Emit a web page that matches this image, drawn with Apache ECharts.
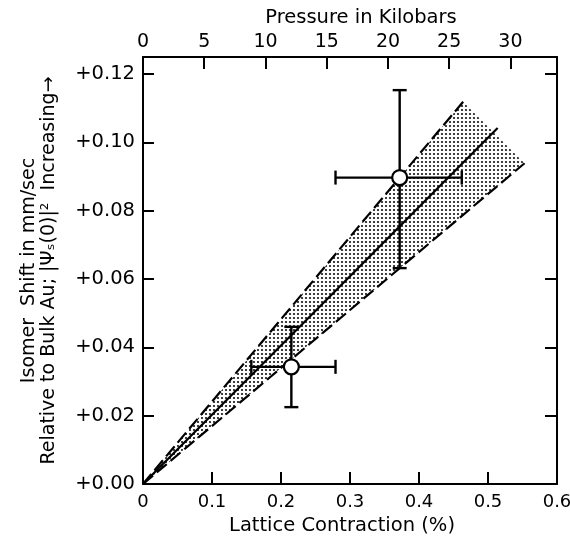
<!DOCTYPE html>
<html lang="en">
<head>
    <meta charset="UTF-8">
    <title>Isomer shift vs lattice contraction</title>
    <script src="https://cdn.jsdelivr.net/npm/echarts@6/dist/echarts.min.js"></script>
    <style>
        html, body { margin: 0; padding: 0; background: #fff; }
        #main { width: 570px; height: 537px; }
    </style>
</head>
<body>
<div id="main"></div>
<script type="text/javascript">
    // two measured points: lattice contraction (%) vs isomer shift (mm/sec)
    var pointX = [0.215, 0.372];
    var pointY = [0.0343, 0.0897];
    var xErrLow = [0.157, 0.279];
    var xErrHigh = [0.279, 0.462];
    var yErrLow = [0.0225, 0.0632];
    var yErrHigh = [0.046, 0.1153];

    // fitted line through origin and the edges of the shaded band
    var fitStart = [0, 0];
    var fitEnd = [0.514, 0.1042];
    var bandUpperEnd = [0.464, 0.1119];
    var bandLowerEnd = [0.553, 0.0939];

    // tick labels
    var contractionTicks = [0, 0.1, 0.2, 0.3, 0.4, 0.5, 0.6];
    var pressureTicks = [0, 5, 10, 15, 20, 25, 30];
    var shiftTicks = [0, 0.02, 0.04, 0.06, 0.08, 0.10, 0.12];

    var FONT = 'DejaVu Sans';

    function isTick(list, v) {
        for (var i = 0; i < list.length; i++) {
            if (Math.abs(list[i] - v) < 1e-6) return true;
        }
        return false;
    }

    // dotted fill for the band
    var dots = document.createElement('canvas');
    dots.width = 4;
    dots.height = 4;
    var g = dots.getContext('2d');
    g.fillStyle = '#111';
    g.beginPath(); g.arc(2, 2, 1.1, 0, Math.PI * 2); g.fill();

    var myChart = echarts.init(document.getElementById('main'));

    var tickStyle = {color: '#000', width: 2};

    var option = {
        backgroundColor: '#fff',
        animation: false,
        grid: {left: 143, right: 13, top: 57, bottom: 53, outerBoundsMode: 'none'},
        xAxis: [{
            type: 'value',
            position: 'bottom',
            min: 0, max: 0.6, interval: 0.1,
            name: 'Lattice Contraction (%)',
            nameLocation: 'middle',
            nameGap: 31,
            nameTextStyle: {fontFamily: FONT, fontSize: 19.5, color: '#000', padding: [0, 16, 0, 0]},
            axisLine: {onZero: false, lineStyle: tickStyle},
            axisTick: {inside: true, length: 12, lineStyle: tickStyle},
            axisLabel: {
                fontFamily: FONT, fontSize: 18, color: '#000', margin: 9,
                formatter: function (v) {
                    if (!isTick(contractionTicks, v)) return '';
                    return v === 0 ? '0' : v.toFixed(1);
                }
            },
            splitLine: {show: false}
        }, {
            type: 'value',
            position: 'top',
            min: 0, max: 33.8, interval: 5,
            name: 'Pressure in Kilobars',
            nameLocation: 'middle',
            nameGap: 27,
            nameTextStyle: {fontFamily: FONT, fontSize: 19.5, color: '#000', padding: [0, 0, 0, 22]},
            axisLine: {onZero: false, lineStyle: tickStyle},
            axisTick: {inside: true, length: 12, lineStyle: tickStyle},
            axisLabel: {
                fontFamily: FONT, fontSize: 19, color: '#000', margin: 5,
                formatter: function (v) {
                    return isTick(pressureTicks, v) ? String(v) : '';
                }
            },
            splitLine: {show: false}
        }],
        yAxis: [{
            type: 'value',
            position: 'left',
            min: 0, max: 0.125, interval: 0.02,
            name: 'Isomer  Shift in mm/sec\nRelative to Bulk Au; |Ψₛ(0)|²  Increasing→',
            nameLocation: 'middle',
            nameGap: 84,
            nameTextStyle: {fontFamily: FONT, fontSize: 19, lineHeight: 20, color: '#000'},
            axisLine: {onZero: false, lineStyle: tickStyle},
            axisTick: {inside: true, length: 11, lineStyle: tickStyle},
            axisLabel: {
                fontFamily: FONT, fontSize: 19.5, color: '#000', margin: 8,
                formatter: function (v) {
                    return isTick(shiftTicks, v) ? '+' + v.toFixed(2) : '';
                }
            },
            splitLine: {show: false}
        }, {
            type: 'value',
            position: 'right',
            min: 0, max: 0.125, interval: 0.02,
            axisLine: {show: true, onZero: false, lineStyle: tickStyle},
            axisTick: {show: true, inside: true, length: 12, lineStyle: tickStyle},
            axisLabel: {show: false},
            splitLine: {show: false}
        }],
        series: [{
            // shaded band
            type: 'custom',
            silent: true,
            z: 1,
            data: [fitStart],
            renderItem: function (params, api) {
                var pts = [fitStart, bandUpperEnd, bandLowerEnd].map(function (p) {
                    return api.coord(p);
                });
                return {
                    type: 'polygon',
                    shape: {points: pts},
                    style: {fill: {image: dots, repeat: 'repeat'}, stroke: null}
                };
            }
        }, {
            type: 'line',
            z: 3,
            data: [fitStart, bandUpperEnd],
            showSymbol: false,
            lineStyle: {color: '#000', width: 2.2, type: [13, 5]}
        }, {
            type: 'line',
            z: 3,
            data: [fitStart, bandLowerEnd],
            showSymbol: false,
            lineStyle: {color: '#000', width: 2.2, type: [13, 5]}
        }, {
            type: 'line',
            z: 3,
            data: [fitStart, fitEnd],
            showSymbol: false,
            lineStyle: {color: '#000', width: 2.2}
        }, {
            // error bars
            type: 'custom',
            z: 4,
            data: pointX.map(function (x, i) {
                return [x, pointY[i], xErrLow[i], xErrHigh[i], yErrLow[i], yErrHigh[i]];
            }),
            encode: {x: [0, 2, 3], y: [1, 4, 5]},
            renderItem: function (params, api) {
                var cx = api.value(0), cy = api.value(1);
                var l = api.coord([api.value(2), cy]);
                var r = api.coord([api.value(3), cy]);
                var b = api.coord([cx, api.value(4)]);
                var t = api.coord([cx, api.value(5)]);
                var cap = 7;
                var st = {stroke: '#000', lineWidth: 2.4};
                return {
                    type: 'group',
                    children: [
                        {type: 'line', shape: {x1: l[0], y1: l[1], x2: r[0], y2: r[1]}, style: st},
                        {type: 'line', shape: {x1: b[0], y1: b[1], x2: t[0], y2: t[1]}, style: st},
                        {type: 'line', shape: {x1: l[0], y1: l[1] - cap, x2: l[0], y2: l[1] + cap}, style: st},
                        {type: 'line', shape: {x1: r[0], y1: r[1] - cap, x2: r[0], y2: r[1] + cap}, style: st},
                        {type: 'line', shape: {x1: b[0] - cap, y1: b[1], x2: b[0] + cap, y2: b[1]}, style: st},
                        {type: 'line', shape: {x1: t[0] - cap, y1: t[1], x2: t[0] + cap, y2: t[1]}, style: st}
                    ]
                };
            }
        }, {
            type: 'scatter',
            z: 5,
            symbolSize: 15,
            data: pointX.map(function (x, i) { return [x, pointY[i]]; }),
            itemStyle: {color: '#fff', borderColor: '#000', borderWidth: 2.2, opacity: 1}
        }]
    };
    myChart.setOption(option);
</script>
</body>
</html>
